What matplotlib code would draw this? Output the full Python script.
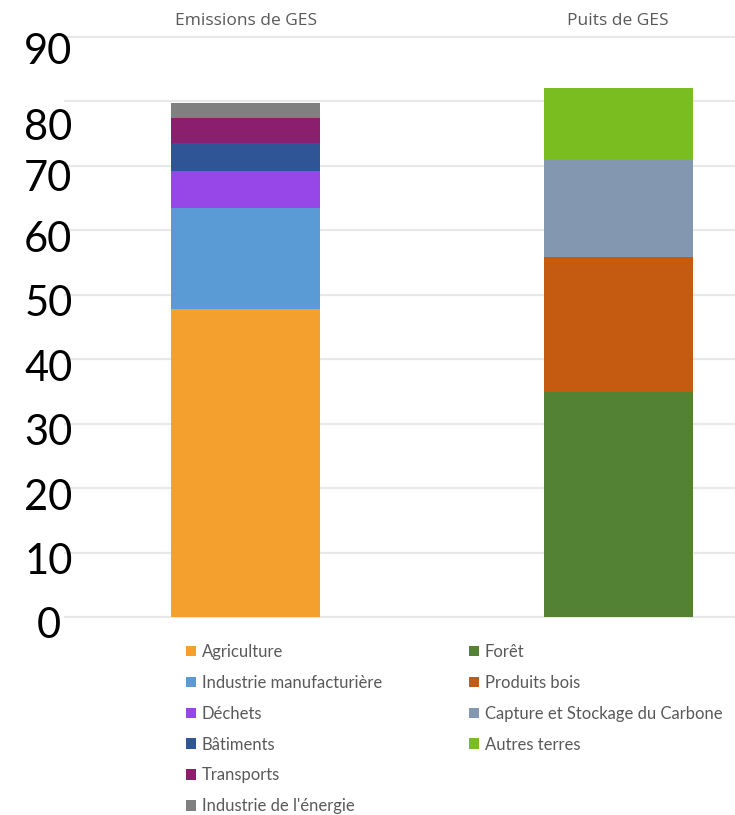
import numpy as np
import matplotlib
matplotlib.use("Agg")
import matplotlib.pyplot as plt
import matplotlib.transforms as mtransforms

# Categories (bars)
categories = ["Emissions de GES", "Puits de GES"]

# Emissions segments (bottom to top)
emis_labels = ["Agriculture", "Industrie manufacturière", "Déchets",
               "Bâtiments", "Transports", "Industrie de l'énergie"]
emis_values = [47.8, 15.7, 5.7, 4.3, 3.9, 2.4]
emis_colors = ["#F4A02E", "#5B9BD5", "#9747E8", "#2F5597", "#8C1E6E", "#808080"]

# Sinks segments (bottom to top)
sink_labels = ["Forêt", "Produits bois", "Capture et Stockage du Carbone",
               "Autres terres"]
sink_values = [34.9, 21.0, 15.0, 11.2]
sink_colors = ["#548235", "#C55A11", "#8497B0", "#7ABD21"]

# y tick labels (the labels in the source sit slightly off their gridlines)
ytick_labels = ["0", "10", "20", "30", "40", "50", "60", "70", "80", "90"]
ytick_pos = [0, 10, 20, 30, 40, 50, 60, 69.5, 77.4, 89.2]
grid_pos = np.arange(0, 91, 10)

fig = plt.figure(figsize=(7.35, 8.15), dpi=100)
ax = fig.add_axes([65 / 735, 198 / 815, 670 / 735, 580 / 815])

width = 0.4
bottom = 0
emis_bars = []
for lab, val, col in zip(emis_labels, emis_values, emis_colors):
    b = ax.bar(0, val, width, bottom=bottom, color=col, label=lab, zorder=3)
    emis_bars.append(b)
    bottom += val

bottom = 0
sink_bars = []
for lab, val, col in zip(sink_labels, sink_values, sink_colors):
    b = ax.bar(1, val, width, bottom=bottom, color=col, label=lab, zorder=3)
    sink_bars.append(b)
    bottom += val

ax.set_xlim(-0.485, -0.485 + 670 / 372.5)
ax.set_ylim(0, 90)

# gridlines
for g in grid_pos:
    ax.axhline(g, color="#E8E8E8", linewidth=1.6, zorder=0, clip_on=False)

ax.set_yticks(ytick_pos, ytick_labels, fontsize=30, family="Lato")
ax.tick_params(which="both", length=0)
ax.tick_params(axis="y", pad=12)
for lbl in ax.get_yticklabels():
    lbl.set_horizontalalignment("center")
    lbl.set_transform(lbl.get_transform() +
                      mtransforms.ScaledTranslation(0, -6 / 100, fig.dpi_scale_trans))

# category names on top
ax.xaxis.tick_top()
ax.set_xticks([0, 1], categories, fontsize=12.5, color="#595959", family="Open Sans")
ax.tick_params(axis="x", pad=6)

for s in ax.spines.values():
    s.set_visible(False)

leg_kw = dict(frameon=False, loc="upper left", labelcolor="#595959",
              handlelength=0.6, handleheight=0.6, handletextpad=0.35,
              labelspacing=0.89, borderpad=0, borderaxespad=0,
              prop={"family": "Lato", "size": 12})
leg1 = fig.legend(handles=emis_bars, labels=emis_labels,
                  bbox_to_anchor=(186 / 735, 1 - 644 / 815), **leg_kw)
leg2 = fig.legend(handles=sink_bars, labels=sink_labels,
                  bbox_to_anchor=(469 / 735, 1 - 644 / 815), **leg_kw)

fig.savefig("out.png", dpi=100)
